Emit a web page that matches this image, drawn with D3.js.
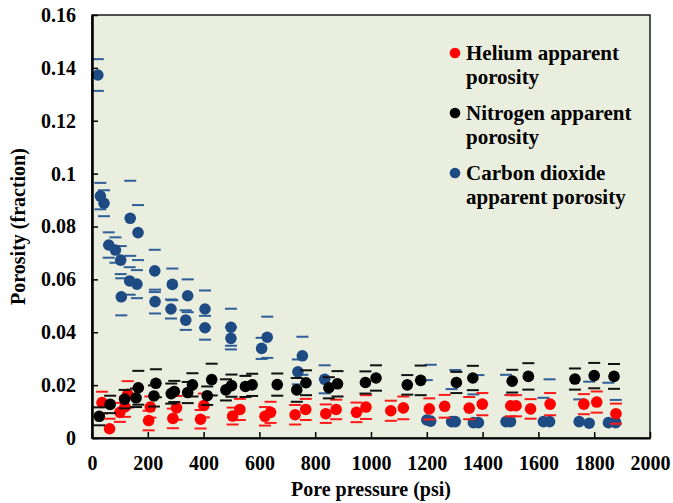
<!DOCTYPE html>
<html>
<head>
<meta charset="utf-8">
<script src="https://cdn.jsdelivr.net/npm/d3@7"></script>
<style>
  html, body { margin: 0; padding: 0; background: #ffffff; }
  svg { display: block; }
  text { font-family: "Liberation Serif", "Times New Roman", serif; font-weight: bold; fill: #000; }
</style>
</head>
<body>
<svg id="chart" width="673" height="503"></svg>
<script>
// Pore pressure (psi), apparent porosity (fraction) and error (± fraction) per gas
const heliumPressure = [36, 63, 100, 118, 128, 203, 209, 290, 303, 389, 401, 504, 530, 620, 640, 728, 766, 838, 875, 948, 982, 1071, 1116, 1209, 1264, 1352, 1399, 1501, 1520, 1572, 1642, 1763, 1809, 1878];
const heliumPorosity = [0.0134, 0.0035, 0.0097, 0.0118, 0.0165, 0.0066, 0.0117, 0.0074, 0.0114, 0.0071, 0.0123, 0.0083, 0.0108, 0.0082, 0.0097, 0.0088, 0.0108, 0.0092, 0.0108, 0.0097, 0.0117, 0.0103, 0.0114, 0.0110, 0.0120, 0.0113, 0.0128, 0.0122, 0.0122, 0.0110, 0.0128, 0.0128, 0.0136, 0.0092];
const heliumError = [0.0041, 0.0038, 0.0036, 0.0038, 0.0050, 0.0037, 0.0040, 0.0037, 0.0045, 0.0035, 0.0045, 0.0032, 0.0040, 0.0035, 0.0040, 0.0037, 0.0040, 0.0035, 0.0037, 0.0037, 0.0045, 0.0038, 0.0043, 0.0040, 0.0043, 0.0042, 0.0042, 0.0040, 0.0040, 0.0037, 0.0042, 0.0038, 0.0040, 0.0038];

const nitrogenPressure = [26, 65, 117, 158, 166, 222, 229, 284, 295, 343, 360, 413, 429, 480, 500, 550, 574, 664, 734, 767, 849, 880, 980, 1018, 1130, 1178, 1306, 1365, 1506, 1564, 1731, 1800, 1871];
const nitrogenPorosity = [0.0082, 0.0127, 0.0147, 0.0152, 0.0190, 0.0159, 0.0207, 0.0168, 0.0176, 0.0172, 0.0201, 0.0160, 0.0221, 0.0182, 0.0198, 0.0195, 0.0201, 0.0202, 0.0182, 0.0209, 0.0190, 0.0205, 0.0210, 0.0227, 0.0201, 0.0218, 0.0210, 0.0227, 0.0215, 0.0233, 0.0223, 0.0236, 0.0233];
const nitrogenError = [0.0034, 0.0033, 0.0035, 0.0035, 0.0064, 0.0040, 0.0053, 0.0038, 0.0040, 0.0040, 0.0044, 0.0035, 0.0060, 0.0040, 0.0042, 0.0040, 0.0042, 0.0042, 0.0045, 0.0047, 0.0040, 0.0048, 0.0042, 0.0048, 0.0037, 0.0056, 0.0040, 0.0046, 0.0043, 0.0050, 0.0040, 0.0048, 0.0047];

const co2Pressure = [21, 30, 43, 60, 84, 103, 105, 137, 135, 165, 161, 225, 226, 288, 283, 343, 336, 405, 405, 498, 498, 608, 628, 738, 754, 834, 1200, 1214, 1289, 1302, 1367, 1385, 1484, 1500, 1618, 1640, 1746, 1782, 1851, 1877];
const co2Porosity = [0.1373, 0.0915, 0.0888, 0.0730, 0.0711, 0.0673, 0.0534, 0.0831, 0.0594, 0.0777, 0.0582, 0.0632, 0.0516, 0.0581, 0.0488, 0.0538, 0.0446, 0.0488, 0.0417, 0.0419, 0.0377, 0.0339, 0.0381, 0.0250, 0.0311, 0.0222, 0.0068, 0.0064, 0.0062, 0.0062, 0.0058, 0.0058, 0.0062, 0.0062, 0.0062, 0.0062, 0.0062, 0.0056, 0.0058, 0.0058];
const co2Error = [0.0060, 0.0050, 0.0049, 0.0048, 0.0048, 0.0053, 0.0070, 0.0142, 0.0052, 0.0104, 0.0053, 0.0080, 0.0045, 0.0060, 0.0036, 0.0062, 0.0037, 0.0070, 0.0045, 0.0070, 0.0042, 0.0040, 0.0078, 0.0047, 0.0072, 0.0053, 0.0151, 0.0213, 0.0123, 0.0195, 0.0107, 0.0180, 0.0177, 0.0101, 0.0090, 0.0160, 0.0084, 0.0157, 0.0151, 0.0086];

const xTicks = [0, 200, 400, 600, 800, 1000, 1200, 1400, 1600, 1800, 2000];
const yTicks = [0, 0.02, 0.04, 0.06, 0.08, 0.1, 0.12, 0.14, 0.16];
const yTickLabels = ["0", "0.02", "0.04", "0.06", "0.08", "0.1", "0.12", "0.14", "0.16"];

const legendLines = [
  ["Helium apparent", "porosity"],
  ["Nitrogen apparent", "porosity"],
  ["Carbon dioxide", "apparent porosity"]
];

const zip = (p, v, e) => p.map((d, i) => ({ p: d, v: v[i], e: e[i] }));
// Drawing order: CO2 at the back, helium above it, nitrogen on top
const series = [
  { name: "co2", color: "#1f4b85", cap: "#2f5f99", data: zip(co2Pressure, co2Porosity, co2Error), legend: 2 },
  { name: "helium", color: "#ff0000", cap: "#ff1a1a", data: zip(heliumPressure, heliumPorosity, heliumError), legend: 0 },
  { name: "nitrogen", color: "#000000", cap: "#111111", data: zip(nitrogenPressure, nitrogenPorosity, nitrogenError), legend: 1 }
];

const plot = { left: 92, right: 650, top: 15, bottom: 438 };
const svg = d3.select("#chart");

const x = d3.scaleLinear().domain([0, 2000]).range([plot.left, plot.right]);
const y = d3.scaleLinear().domain([0, 0.16]).range([plot.bottom, plot.top]);

// Plot area fill
svg.append("rect")
  .attr("x", plot.left).attr("y", plot.top)
  .attr("width", plot.right - plot.left).attr("height", plot.bottom - plot.top)
  .attr("fill", "#eaeede");

svg.append("clipPath").attr("id", "plotClip")
  .append("rect")
  .attr("x", plot.left).attr("y", plot.top)
  .attr("width", plot.right - plot.left).attr("height", plot.bottom - plot.top);

const marks = svg.append("g").attr("clip-path", "url(#plotClip)");

series.forEach(s => {
  const g = marks.append("g").attr("class", s.name);
  // error caps (no stems)
  const caps = s.data.flatMap(d => [{ p: d.p, v: d.v + d.e }, { p: d.p, v: d.v - d.e }]);
  g.selectAll("line.cap").data(caps).join("line")
    .attr("class", "cap")
    .attr("x1", d => x(d.p) - 6).attr("x2", d => x(d.p) + 6)
    .attr("y1", d => y(d.v)).attr("y2", d => y(d.v))
    .attr("stroke", s.cap).attr("stroke-width", 2);
  g.selectAll("circle").data(s.data).join("circle")
    .attr("cx", d => x(d.p)).attr("cy", d => y(d.v))
    .attr("r", 5.8).attr("fill", s.color);
});

// Frame
svg.append("rect")
  .attr("x", plot.left).attr("y", plot.top)
  .attr("width", plot.right - plot.left).attr("height", plot.bottom - plot.top)
  .attr("fill", "none").attr("stroke", "#1a1a1a").attr("stroke-width", 1.5);

// Axes with inward ticks
const xAxis = d3.axisBottom(x).tickValues(xTicks).tickSizeInner(-6).tickSizeOuter(0).tickPadding(18).tickFormat(d3.format("d"));
const gx = svg.append("g").attr("transform", `translate(0,${plot.bottom})`).call(xAxis);
gx.select(".domain").attr("stroke", "#000").attr("stroke-width", 2);
gx.selectAll(".tick line").attr("stroke", "#000").attr("stroke-width", 1.5);
gx.selectAll(".tick text").attr("font-size", 20).attr("font-family", "Liberation Serif").attr("font-weight", "bold").attr("fill", "#000");

const yAxis = d3.axisLeft(y).tickValues(yTicks).tickSizeInner(-6).tickSizeOuter(0).tickPadding(16)
  .tickFormat((d, i) => yTickLabels[i]);
const gy = svg.append("g").attr("transform", `translate(${plot.left},0)`).call(yAxis);
gy.select(".domain").attr("stroke", "#000").attr("stroke-width", 2.5);
gy.selectAll(".tick line").attr("stroke", "#000").attr("stroke-width", 1.5);
gy.selectAll(".tick text").attr("font-size", 20).attr("font-family", "Liberation Serif").attr("font-weight", "bold").attr("fill", "#000");

// Axis titles
svg.append("text")
  .attr("x", (plot.left + plot.right) / 2).attr("y", 496)
  .attr("text-anchor", "middle").attr("font-size", 20)
  .text("Pore pressure (psi)");

svg.append("text")
  .attr("transform", `translate(25,${(plot.top + plot.bottom) / 2}) rotate(-90)`)
  .attr("text-anchor", "middle").attr("font-size", 20)
  .text("Porosity (fraction)");

// Legend
const legendY = [53, 113, 173];
series.forEach(s => {
  const cy = legendY[s.legend];
  svg.append("circle").attr("cx", 455).attr("cy", cy).attr("r", 5.3).attr("fill", s.color);
  const lines = legendLines[s.legend];
  lines.forEach((t, j) => {
    svg.append("text").attr("x", 466).attr("y", cy + 7 + j * 24)
      .attr("font-size", 21).text(t);
  });
});
</script>
</body>
</html>
